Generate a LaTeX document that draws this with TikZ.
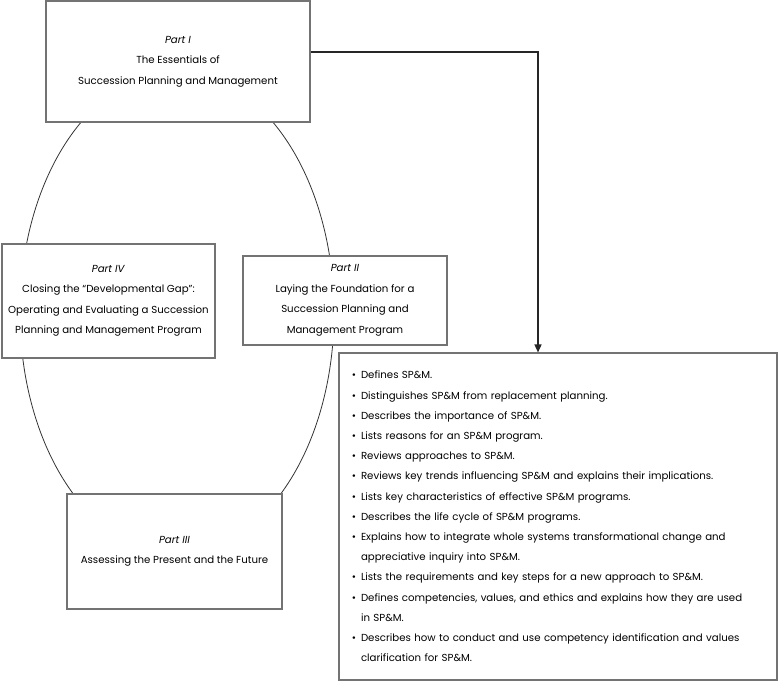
\documentclass[tikz,border=0pt]{standalone}
\usepackage{fontspec}
\setmainfont{Poppins}
\usetikzlibrary{arrows.meta}

\newcommand{\spbullet}{\leavevmode\llap{\textbullet\hspace{5pt}}}

\begin{document}
\begin{tikzpicture}[
        x=1pt,
        y=-1pt,
        part/.style={
            rectangle,
            draw=black!55,
            line width=1.1pt,
            fill=white,
            align=center,
            font=\fontsize{10.2}{20.5}\selectfont,
            inner sep=0pt
        },
        listbox/.style={
            rectangle,
            draw=black!55,
            line width=1.1pt,
            fill=white,
            align=left,
            text width=394pt,
            inner xsep=22pt,
            minimum height=327pt,
            font=\fontsize{10.2}{20.2}\selectfont
        },
        cycle/.style={
            draw=black!80,
            line width=0.8pt
        },
        arrow/.style={
            -{Triangle[width=7pt,length=8pt]},
            line width=1.4pt,
            draw=black!85
        }
    ]

        \useasboundingbox (0,0) rectangle (778,681);

        \draw[cycle] (177,313) ellipse [x radius=157, y radius=241];

        \node[part, minimum width=264pt, minimum height=121pt] (part1) at (178,61.5)
            {\textit{Part I}\\The Essentials of\\Succession Planning and Management};
        \node[part, minimum width=204pt, minimum height=89pt] (part2) at (345,300.5)
            {\textit{Part II}\\Laying the Foundation for a\\Succession Planning and\\Management Program};
        \node[part, minimum width=215pt, minimum height=115pt] (part3) at (174.5,551.5)
            {\textit{Part III}\\Assessing the Present and the Future};
        \node[part, minimum width=213pt, minimum height=114pt] (part4) at (108.5,301)
            {\textit{Part IV}\\Closing the “Developmental Gap”:\\Operating and Evaluating a Succession\\Planning and Management Program};

        \node[listbox] (list) at (558,516.5) {%
            \spbullet Defines SP\&M.\\
            \spbullet Distinguishes SP\&M from replacement planning.\\
            \spbullet Describes the importance of SP\&M.\\
            \spbullet Lists reasons for an SP\&M program.\\
            \spbullet Reviews approaches to SP\&M.\\
            \spbullet Reviews key trends influencing SP\&M and explains their implications.\\
            \spbullet Lists key characteristics of effective SP\&M programs.\\
            \spbullet Describes the life cycle of SP\&M programs.\\
            \spbullet Explains how to integrate whole systems transformational change and\\
            appreciative inquiry into SP\&M.\\
            \spbullet Lists the requirements and key steps for a new approach to SP\&M.\\
            \spbullet Defines competencies, values, and ethics and explains how they are used\\
            in SP\&M.\\
            \spbullet Describes how to conduct and use competency identification and values\\
            clarification for SP\&M.};

        \coordinate (turn) at (538,52);
        \draw[arrow] (part1.east |- turn) -- (turn) -- (turn |- list.north);

    \end{tikzpicture}
\end{document}
